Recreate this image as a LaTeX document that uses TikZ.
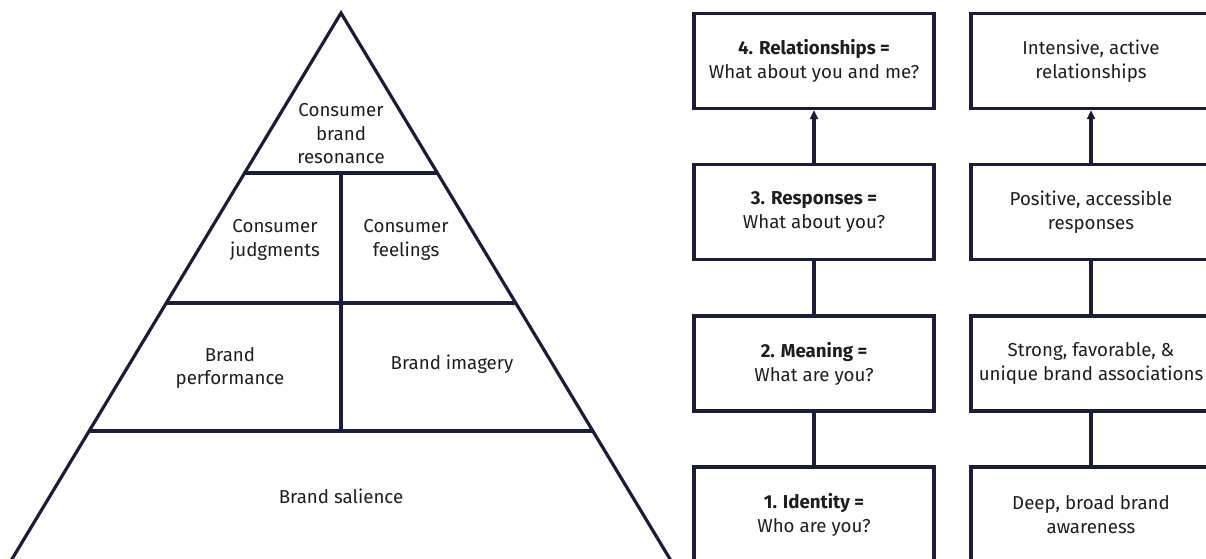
\documentclass[tikz,border=0pt]{standalone}
\usepackage{fontspec}
\setmainfont{Fira Sans}
\usetikzlibrary{arrows.meta}
\definecolor{ink}{HTML}{1C1C36}
\definecolor{txt}{HTML}{1E1E1E}
\begin{document}
\begin{tikzpicture}[x=1pt,y=-1pt,
  rule/.style={draw=ink,line width=3.2pt},
  lbl/.style={align=center,text=txt,font=\fontsize{18.7}{23.5}\selectfont,inner sep=0pt},
  stage/.style={draw=ink,line width=3.4pt,minimum width=240pt,minimum height=95pt,
    align=center,text=txt,font=\fontsize{18.7}{24}\selectfont,inner sep=0pt},
  link/.style={draw=ink,line width=3.4pt},
  uplink/.style={link,-{Triangle[length=9pt,width=8pt]}}]
\useasboundingbox (0,0) rectangle (1206,558);
\clip (0,0) rectangle (1206,558);

% pyramid outline and its levels
\coordinate (apex) at (341,13);
\coordinate (bl) at (5.4,570);
\coordinate (br) at (676.6,570);
\draw[rule,line join=miter] (bl) -- (apex) -- (br);
\draw[rule] (244.6,173) -- (437.4,173);
\draw[rule] (166.3,303) -- (515.7,303);
\draw[rule] (89.2,431) -- (592.8,431);
\draw[rule] (341,173) -- (341,431);

\node[lbl] (resonance) at (341,134) {Consumer\\brand\\resonance};
\node[lbl] (judgments) at (275,240) {Consumer\\judgments};
\node[lbl] (feelings) at (406,240) {Consumer\\feelings};
\node[lbl] (performance) at (230,368) {Brand\\performance};
\node[lbl] (imagery) at (452,364) {Brand imagery};
\node[lbl] (salience) at (341,496) {Brand salience};

% brand-building steps
\node[stage] (q4) at (814,61) {\textbf{4. Relationships =}\\What about you and me?};
\node[stage] (q3) at (814,212) {\textbf{3. Responses =}\\What about you?};
\node[stage] (q2) at (814,363.5) {\textbf{2. Meaning =}\\What are you?};
\node[stage] (q1) at (814,514.5) {\textbf{1. Identity =}\\Who are you?};

% outcome of each step
\node[stage] (o4) at (1091,61) {Intensive, active\\relationships};
\node[stage] (o3) at (1091,212) {Positive, accessible\\responses};
\node[stage] (o2) at (1091,363.5) {Strong, favorable, \&\\unique brand associations};
\node[stage] (o1) at (1091,514.5) {Deep, broad brand\\awareness};

\draw[link] (q1) -- (q2);
\draw[link] (q2) -- (q3);
\draw[uplink] (q3) -- (q4);
\draw[link] (o1) -- (o2);
\draw[link] (o2) -- (o3);
\draw[uplink] (o3) -- (o4);
\end{tikzpicture}
\end{document}
